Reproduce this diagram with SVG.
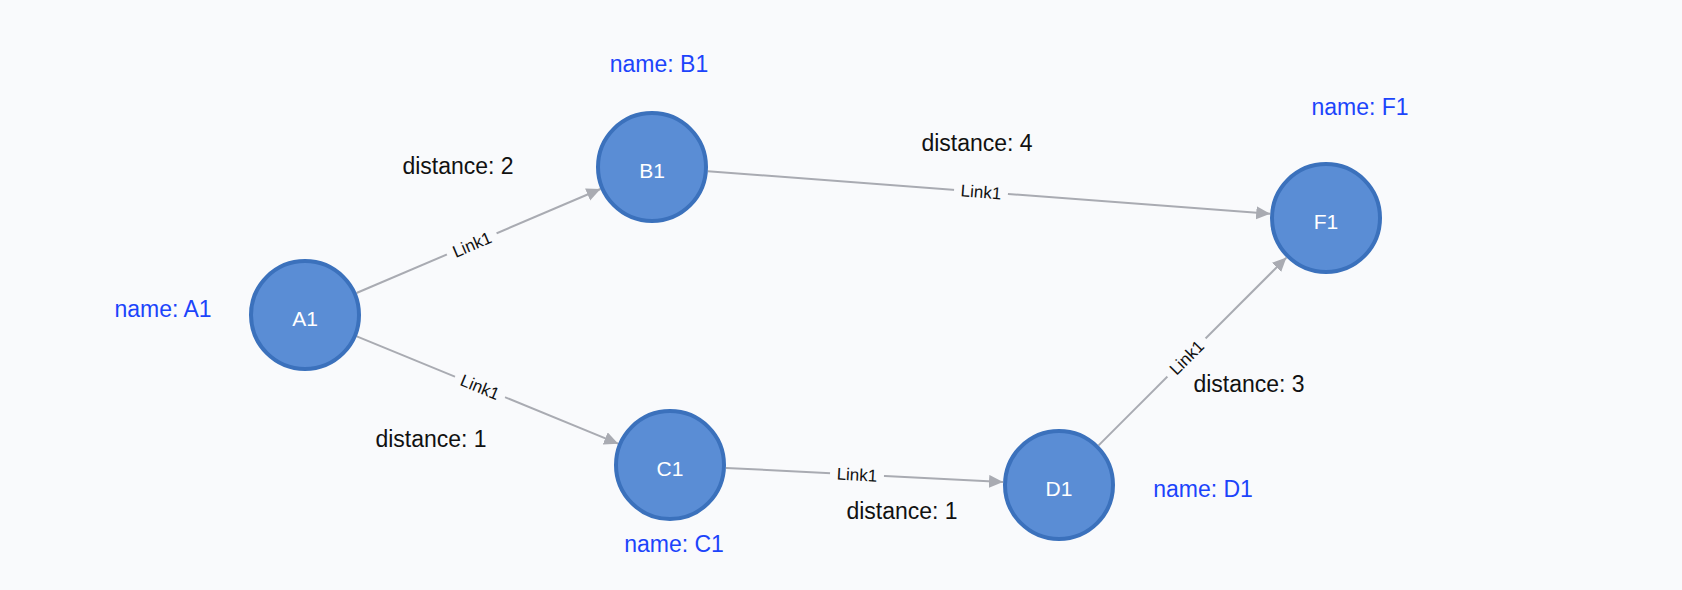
<svg xmlns="http://www.w3.org/2000/svg" width="1682" height="590" viewBox="0 0 1682 590">
<style>
.node circle{fill:#5a8dd5;stroke:#3b71bc;stroke-width:4}
.node .lbl{font-family:"Liberation Sans",Arial,sans-serif;font-size:21px;fill:#ffffff;text-anchor:middle}
.name{font-family:"Liberation Sans",Arial,sans-serif;font-size:23px;fill:#1c44fb;text-anchor:middle}
.dist{font-family:"Liberation Sans",Arial,sans-serif;font-size:23px;fill:#111111;text-anchor:middle}
.edge{stroke:#a9abb2;stroke-width:2;fill:none;marker-end:url(#arrow)}
.elbl{font-family:"Liberation Sans",Arial,sans-serif;font-size:17px;fill:#111111;text-anchor:middle}
.elbg{fill:#f9fafc}
</style>
<defs>
<marker id="arrow" markerUnits="userSpaceOnUse" markerWidth="15" markerHeight="14" refX="14" refY="6.5" orient="auto">
<path d="M0,0 L14,6.5 L0,13 Z" fill="#a9abb2"/>
</marker>
</defs>
<rect width="1682" height="590" fill="#f9fafc"/>
<g id="connectors">
<g id="e-a1-b1">
<line class="edge" x1="356.5" y1="293" x2="600.5" y2="189"/>
<g transform="translate(472,244.5) rotate(-23.1)"><rect class="elbg" x="-27" y="-10" width="54" height="20"/><text class="elbl" y="6">Link1</text></g>
</g>
<g id="e-a1-c1">
<line class="edge" x1="356.8" y1="336.3" x2="618.2" y2="443.7"/>
<g transform="translate(480,387) rotate(22.3)"><rect class="elbg" x="-27" y="-10" width="54" height="20"/><text class="elbl" y="6">Link1</text></g>
</g>
<g id="e-c1-d1">
<line class="edge" x1="726" y1="467.9" x2="1003" y2="482.1"/>
<g transform="translate(857,474.6) rotate(2.94)"><rect class="elbg" x="-27" y="-10" width="54" height="20"/><text class="elbl" y="6">Link1</text></g>
</g>
<g id="e-d1-f1">
<line class="edge" x1="1098.6" y1="445.4" x2="1286.4" y2="257.6"/>
<g transform="translate(1186.5,357.5) rotate(-45)"><rect class="elbg" x="-27" y="-10" width="54" height="20"/><text class="elbl" y="6">Link1</text></g>
</g>
<g id="e-b1-f1">
<line class="edge" x1="707.8" y1="171.2" x2="1270.2" y2="213.8"/>
<g transform="translate(981,191.9) rotate(4.33)"><rect class="elbg" x="-27" y="-10" width="54" height="20"/><text class="elbl" y="6">Link1</text></g>
</g>
<text class="dist" x="458" y="174">distance: 2</text>
<text class="dist" x="431" y="447">distance: 1</text>
<text class="dist" x="902" y="519">distance: 1</text>
<text class="dist" x="1249" y="392">distance: 3</text>
<text class="dist" x="977" y="151">distance: 4</text>
</g>
<g id="node-a1" class="node">
<circle cx="305" cy="315" r="54"/>
<text class="lbl" x="305" y="326">A1</text>
<text class="name" x="163" y="317">name: A1</text>
</g>
<g id="node-b1" class="node">
<circle cx="652" cy="167" r="54"/>
<text class="lbl" x="652" y="178">B1</text>
<text class="name" x="659" y="72">name: B1</text>
</g>
<g id="node-c1" class="node">
<circle cx="670" cy="465" r="54"/>
<text class="lbl" x="670" y="476">C1</text>
<text class="name" x="674" y="552">name: C1</text>
</g>
<g id="node-d1" class="node">
<circle cx="1059" cy="485" r="54"/>
<text class="lbl" x="1059" y="496">D1</text>
<text class="name" x="1203" y="497">name: D1</text>
</g>
<g id="node-f1" class="node">
<circle cx="1326" cy="218" r="54"/>
<text class="lbl" x="1326" y="229">F1</text>
<text class="name" x="1360" y="115">name: F1</text>
</g>
</svg>
